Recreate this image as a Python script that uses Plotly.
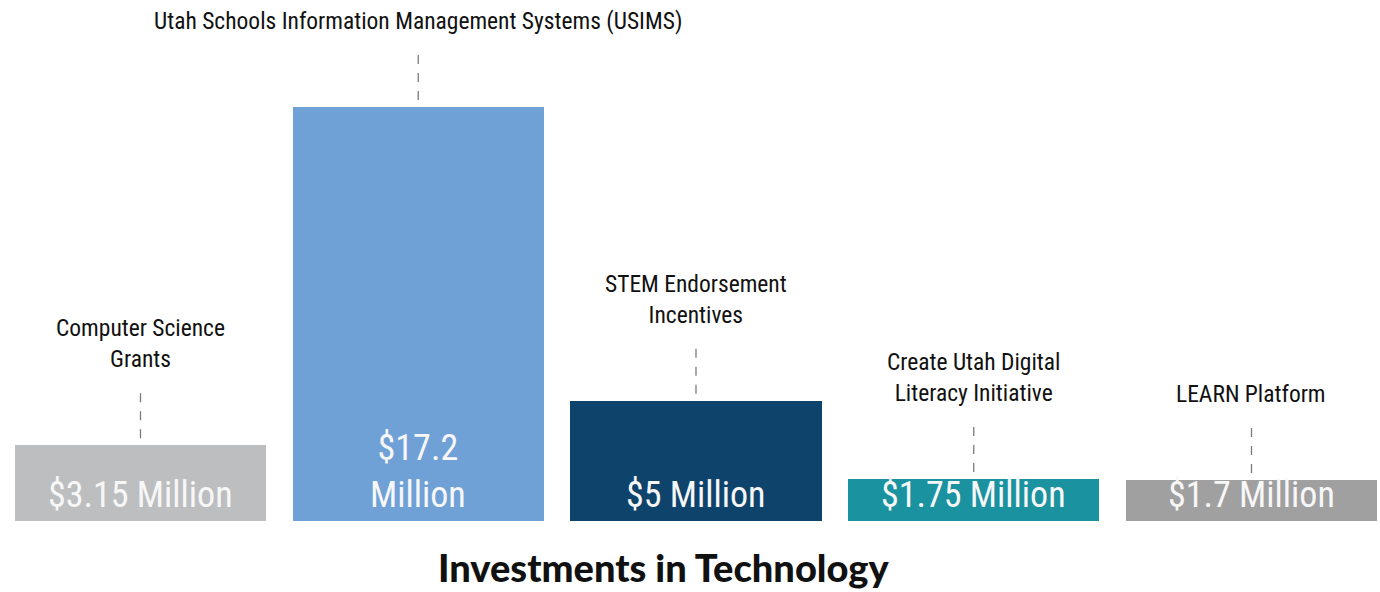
import plotly.graph_objects as go

# Data
programs = [
    "Computer Science<br>Grants",
    "Utah Schools Information Management Systems (USIMS)",
    "STEM Endorsement<br>Incentives",
    "Create Utah Digital<br>Literacy Initiative",
    "LEARN Platform",
]
amounts_m = [3.15, 17.2, 5, 1.75, 1.7]
amount_labels = ["$3.15 Million", "$17.2<br>Million", "$5 Million", "$1.75 Million", "$1.7 Million"]
bar_colors = ["#bdbec0", "#6fa0d6", "#0e436b", "#1a929f", "#a0a0a1"]

NARROW = ("Roboto Condensed, Open Sans Condensed, Noto Sans ExtraCondensed, "
          "Liberation Sans Narrow, DejaVu Sans Condensed, sans-serif")

xs = list(range(len(programs)))

fig = go.Figure()
fig.add_trace(
    go.Bar(
        x=xs,
        y=amounts_m,
        width=0.904,
        marker=dict(color=bar_colors, line=dict(width=0)),
        hoverinfo="skip",
        showlegend=False,
    )
)

annotations = []
shapes = []
for x, val, prog, lab in zip(xs, amounts_m, programs, amount_labels):
    # value label at the bottom of each bar
    annotations.append(
        dict(
            x=x, y=0, xref="x", yref="y",
            text=lab, showarrow=False,
            yanchor="bottom", yshift=3,
            font=dict(family=NARROW, size=36, color="#f7f7f7"),
            align="center",
        )
    )
    # program name above the bar
    annotations.append(
        dict(
            x=x, y=val, xref="x", yref="y",
            text=prog, showarrow=False,
            yanchor="bottom", yshift=70,
            font=dict(family=NARROW, size=23.5, color="#111111"),
            align="center",
        )
    )
    # dashed leader line
    shapes.append(
        dict(
            type="line", xref="x", yref="y",
            ysizemode="pixel", yanchor=val,
            x0=x, x1=x, y0=7, y1=55,
            line=dict(color="#7a7a7a", width=1.3, dash="dash"),
        )
    )

annotations.append(
    dict(
        x=0.481, y=-0.088, xref="paper", yref="paper",
        text="Investments in Technology", showarrow=False,
        yanchor="middle",
        font=dict(family="Lato, DejaVu Sans, sans-serif", size=38, weight=900, color="#111111"),
    )
)

fig.update_layout(
    width=1380,
    height=592,
    margin=dict(l=0, r=0, t=0, b=71),
    plot_bgcolor="white",
    paper_bgcolor="white",
    annotations=annotations,
    shapes=shapes,
    bargap=0,
)
fig.update_xaxes(range=[-0.5058, 4.4627], visible=False, fixedrange=True)
fig.update_yaxes(range=[0, 21.65], visible=False, fixedrange=True)

fig.write_html(
    "out.html",
    config={"displayModeBar": False},
    post_script="document.body.style.margin='0px';document.body.style.overflow='hidden';",
)
